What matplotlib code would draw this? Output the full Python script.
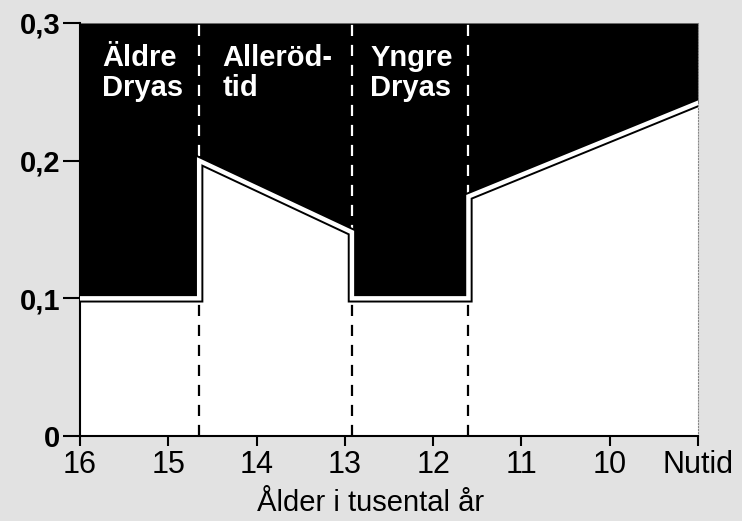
import matplotlib.pyplot as plt
import matplotlib.patheffects as pe

plt.rcParams['font.family'] = ['Liberation Sans', 'DejaVu Sans']

BG = '#e2e2e2'

# data: age in thousands of years (x) and value (y), step shaped
ages = [16, 14.65, 14.65, 12.92, 12.92, 11.6, 11.6, 9]
values = [0.1, 0.1, 0.2, 0.148, 0.1, 0.1, 0.174, 0.242]

boundaries = [14.65, 12.92, 11.6]
period_labels = ['Äldre\nDryas', 'Alleröd-\ntid', 'Yngre\nDryas']
label_x = [15.75, 14.39, 12.71]

xticks = [16, 15, 14, 13, 12, 11, 10, 9]
xticklabels = ['16', '15', '14', '13', '12', '11', '10', 'Nutid']
yticks = [0, 0.1, 0.2, 0.3]
yticklabels = ['0', '0,1', '0,2', '0,3']

fig = plt.figure(figsize=(7.42, 5.21), dpi=100, facecolor=BG)
ax = fig.add_axes([0.1078, 0.1631, 0.8329, 0.7928])
ax.set_facecolor(BG)

top = ax.fill_between(ages, values, 0.3, color='black', lw=0, zorder=1)
bottom = ax.fill_between(ages, 0, values, color='white', lw=0, zorder=1)

# dashed period boundaries: white over black, black over white
for b in boundaries:
    l1 = ax.plot([b, b], [0, 0.3], color='white', lw=1.6, ls=(0, (5, 4)), zorder=2)[0]
    l1.set_clip_path(top.get_paths()[0], transform=ax.transData)
    l2 = ax.plot([b, b], [0, 0.3], color='black', lw=1.6, ls=(0, (5, 4)), zorder=2)[0]
    l2.set_clip_path(bottom.get_paths()[0], transform=ax.transData)

ax.plot(ages, values, color='white', lw=3.2, zorder=3, solid_joinstyle='miter',
        path_effects=[pe.Stroke(linewidth=6, foreground='black'), pe.Normal()])

for x, t in zip(label_x, period_labels):
    ax.text(x, 0.285, t, color='white', fontsize=21, fontweight='bold',
            ha='left', va='top', linespacing=1.1, zorder=4)

ax.set_xlim(16, 9)
ax.set_ylim(0, 0.3)
ax.set_xticks(xticks)
ax.set_xticklabels(xticklabels, fontsize=22)
ax.set_yticks(yticks)
ax.set_yticklabels(yticklabels, fontsize=21, fontweight='bold')
ax.tick_params(axis='y', length=12, width=1.5, pad=2)
ax.tick_params(axis='x', length=7, width=1.5, pad=3)

ax.spines['top'].set_visible(False)
ax.spines['right'].set_color('#888888')
ax.spines['right'].set_linestyle(':')
ax.spines['left'].set_linewidth(1.5)
ax.spines['bottom'].set_linewidth(1.5)

ax.set_xlabel('Ålder i tusental år', fontsize=21)
ax.xaxis.set_label_coords(0.47, -0.128)

plt.savefig('out.png', dpi=100, facecolor=BG)
